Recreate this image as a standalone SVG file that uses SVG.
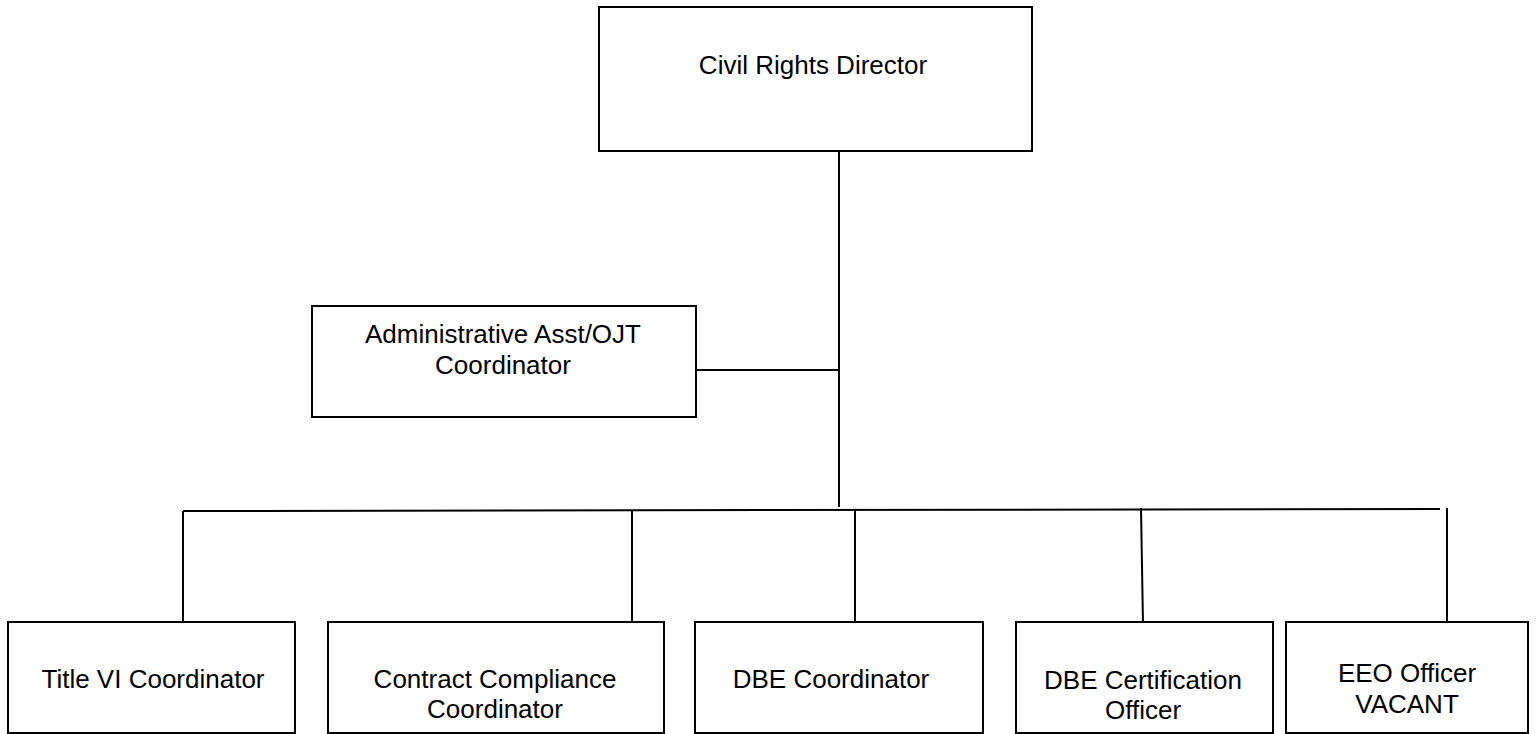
<svg xmlns="http://www.w3.org/2000/svg" width="1538" height="734" viewBox="0 0 1538 734">
<style>
.box{fill:#fff;stroke:#000;stroke-width:2}
.ln{stroke:#000;stroke-width:2;fill:none}
text{font-family:"Liberation Sans",Arial,sans-serif;font-size:26px;fill:#000;text-anchor:middle}
</style>
<rect width="1538" height="734" fill="#fff"/>
<g id="connectors">
<line class="ln" x1="839" y1="151" x2="839" y2="507"/>
<line class="ln" x1="696" y1="370" x2="839" y2="370"/>
<line class="ln" x1="183" y1="511" x2="1440" y2="509"/>
<line class="ln" x1="183" y1="511" x2="183" y2="632"/>
<line class="ln" x1="632" y1="511" x2="632" y2="623"/>
<line class="ln" x1="855" y1="510" x2="855" y2="632"/>
<line class="ln" x1="1141" y1="508" x2="1143" y2="624"/>
<line class="ln" x1="1447" y1="508" x2="1447" y2="621"/>
</g>
<g id="director">
<rect class="box" x="599" y="7" width="433" height="144"/>
<text x="813" y="74">Civil Rights Director</text>
</g>
<g id="admin">
<rect class="box" x="312" y="306" width="384" height="111"/>
<text x="503" y="343">Administrative Asst/OJT</text>
<text x="503" y="374">Coordinator</text>
</g>
<g id="title6">
<rect class="box" x="8" y="622" width="287" height="111"/>
<text x="153" y="688">Title VI Coordinator</text>
</g>
<g id="contract">
<rect class="box" x="328" y="622" width="336" height="111"/>
<text x="495" y="688">Contract Compliance</text>
<text x="495" y="718">Coordinator</text>
</g>
<g id="dbe">
<rect class="box" x="695" y="622" width="288" height="111"/>
<text x="831" y="688">DBE Coordinator</text>
</g>
<g id="dbecert">
<rect class="box" x="1016" y="622" width="257" height="111"/>
<text x="1143" y="689">DBE Certification</text>
<text x="1143" y="719">Officer</text>
</g>
<g id="eeo">
<rect class="box" x="1286" y="622" width="242" height="111"/>
<text x="1407" y="682">EEO Officer</text>
<text x="1407" y="713">VACANT</text>
</g>
</svg>
